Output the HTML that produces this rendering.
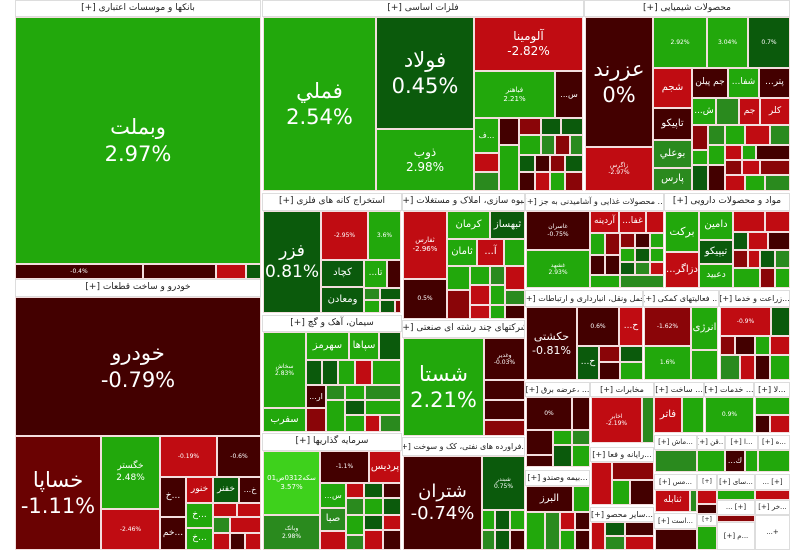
<!DOCTYPE html>
<html><head><meta charset="utf-8">
<style>
*{box-sizing:border-box;margin:0;padding:0}
body{width:800px;height:558px;background:#fff;position:relative;overflow:hidden;font-family:"DejaVu Sans","Liberation Sans",sans-serif}
div{position:absolute;border:1px solid #f3dede;color:#fff;display:flex;align-items:center;justify-content:center;text-align:center;overflow:hidden;direction:ltr;line-height:1.25;white-space:nowrap}
.h{background:#fff;color:#222;font-size:9px;border:1px solid #ddd;direction:rtl}
.g{background:#22a80c}.l{background:#3ed11c}.dg{background:#0b5a0c}.mg{background:#2a8a1e}
.r{background:#c00c12}.dr{background:#430000}.mr{background:#8a0508}.kr{background:#6a0202}
.B{font-size:21px}.M{font-size:12px}.S{font-size:6px}
</style></head><body>
<!-- left -->
<div class="h" style="left:15px;top:0;width:246px;height:17px">بانکها و موسسات اعتباری [+]</div>
<div class="g B" style="left:15px;top:17px;width:246px;height:247px">وبملت<br>2.97%</div>
<div class="dr S" style="left:15px;top:264px;width:128px;height:15px">-0.4%</div>
<div class="dr" style="left:143px;top:264px;width:73px;height:15px"></div>
<div class="r" style="left:216px;top:264px;width:30px;height:15px"></div>
<div class="dg" style="left:246px;top:264px;width:15px;height:15px"></div>
<div class="h" style="left:15px;top:279px;width:246px;height:18px">خودرو و ساخت قطعات [+]</div>
<div class="dr B" style="left:15px;top:297px;width:246px;height:139px">خودرو<br>-0.79%</div>
<div class="kr B" style="left:15px;top:436px;width:86px;height:114px">خساپا<br>-1.11%</div>
<div class="g" style="left:101px;top:436px;width:59px;height:73px;font-size:9px">خگستر<br>2.48%</div>
<div class="r S" style="left:101px;top:509px;width:59px;height:41px">-2.46%</div>
<div class="r S" style="left:160px;top:436px;width:57px;height:41px">-0.19%</div>
<div class="dr S" style="left:217px;top:436px;width:44px;height:41px">-0.6%</div>
<div class="dr" style="left:160px;top:477px;width:26px;height:40px;font-size:9px">خ...</div>
<div class="r" style="left:186px;top:477px;width:27px;height:26px;font-size:9px">خنور</div>
<div class="dg" style="left:213px;top:477px;width:26px;height:26px;font-size:9px">خفنر</div>
<div class="dr" style="left:239px;top:477px;width:22px;height:26px;font-size:8px">...خ</div>
<div class="dr" style="left:160px;top:517px;width:26px;height:33px;font-size:9px">خم...</div>
<div class="g" style="left:186px;top:503px;width:27px;height:25px;font-size:9px">خ...</div>
<div class="g" style="left:186px;top:528px;width:27px;height:22px;font-size:9px">خ...</div>
<div class="r" style="left:213px;top:503px;width:24px;height:14px"></div>
<div class="r" style="left:237px;top:503px;width:24px;height:14px"></div>
<div class="mg" style="left:213px;top:517px;width:17px;height:16px"></div>
<div class="r" style="left:230px;top:517px;width:31px;height:16px"></div>
<div class="r" style="left:213px;top:533px;width:17px;height:17px"></div>
<div class="dr" style="left:230px;top:533px;width:15px;height:17px"></div>
<div class="r" style="left:245px;top:533px;width:16px;height:17px"></div>
<!-- fellezat -->
<div class="h" style="left:262px;top:0;width:322px;height:17px">فلزات اساسی [+]</div>
<div class="g B" style="left:263px;top:17px;width:113px;height:174px">فملي<br>2.54%</div>
<div class="dg B" style="left:376px;top:17px;width:98px;height:112px">فولاد<br>0.45%</div>
<div class="g M" style="left:376px;top:129px;width:98px;height:62px">ذوب<br>2.98%</div>
<div class="r M" style="left:474px;top:17px;width:109px;height:54px">آلومينا<br>-2.82%</div>
<div class="g" style="left:474px;top:71px;width:81px;height:47px;font-size:7px">فباهنر<br>2.21%</div>
<div class="dr" style="left:555px;top:71px;width:28px;height:47px;font-size:8px">...س</div>
<div class="g" style="left:474px;top:118px;width:25px;height:35px;font-size:8px">ف...</div>
<div class="r" style="left:474px;top:153px;width:25px;height:19px"></div>
<div class="mg" style="left:474px;top:172px;width:25px;height:19px"></div>
<div class="dr" style="left:499px;top:118px;width:20px;height:27px"></div>
<div class="g" style="left:499px;top:145px;width:20px;height:46px"></div>
<div class="mr" style="left:519px;top:118px;width:22px;height:17px"></div>
<div class="dg" style="left:541px;top:118px;width:20px;height:17px"></div>
<div class="dg" style="left:561px;top:118px;width:22px;height:17px"></div>
<div class="g" style="left:519px;top:135px;width:22px;height:20px"></div>
<div class="mg" style="left:541px;top:135px;width:14px;height:20px"></div>
<div class="mr" style="left:555px;top:135px;width:15px;height:20px"></div>
<div class="mg" style="left:570px;top:135px;width:13px;height:20px"></div>
<div class="dg" style="left:519px;top:155px;width:16px;height:17px"></div>
<div class="dr" style="left:535px;top:155px;width:15px;height:17px"></div>
<div class="mr" style="left:550px;top:155px;width:15px;height:17px"></div>
<div class="dg" style="left:565px;top:155px;width:18px;height:17px"></div>
<div class="dr" style="left:519px;top:172px;width:16px;height:19px"></div>
<div class="r" style="left:535px;top:172px;width:15px;height:19px"></div>
<div class="g" style="left:550px;top:172px;width:15px;height:19px"></div>
<div class="mr" style="left:565px;top:172px;width:18px;height:19px"></div>
<!-- chem -->
<div class="h" style="left:584px;top:0;width:206px;height:17px">محصولات شیمیایی [+]</div>
<div class="dr B" style="left:585px;top:17px;width:68px;height:130px">عزرند<br>0%</div>
<div class="r S" style="left:585px;top:147px;width:68px;height:44px">زاگرس<br>-2.97%</div>
<div class="g S" style="left:653px;top:17px;width:54px;height:51px">2.92%</div>
<div class="g S" style="left:707px;top:17px;width:41px;height:51px">3.04%</div>
<div class="dg S" style="left:748px;top:17px;width:42px;height:51px">0.7%</div>
<div class="r" style="left:653px;top:68px;width:39px;height:40px;font-size:10px">شجم</div>
<div class="dr" style="left:692px;top:68px;width:36px;height:30px;font-size:9px">جم پیلن</div>
<div class="g" style="left:728px;top:68px;width:31px;height:30px;font-size:9px">...شفا</div>
<div class="dr" style="left:759px;top:68px;width:31px;height:30px;font-size:9px">...پتر</div>
<div class="dr" style="left:653px;top:108px;width:39px;height:32px;font-size:10px">تاپیکو</div>
<div class="g" style="left:692px;top:98px;width:24px;height:27px;font-size:9px">...ش</div>
<div class="mg" style="left:716px;top:98px;width:23px;height:27px"></div>
<div class="r" style="left:739px;top:98px;width:21px;height:27px;font-size:9px">جم</div>
<div class="r" style="left:760px;top:98px;width:30px;height:27px;font-size:9px">کلر</div>
<div class="mg" style="left:653px;top:140px;width:39px;height:28px;font-size:10px">بوعلي</div>
<div class="mg" style="left:653px;top:168px;width:39px;height:23px;font-size:10px">پارس</div>
<div class="mr" style="left:692px;top:125px;width:16px;height:25px"></div>
<div class="g" style="left:692px;top:150px;width:16px;height:15px"></div>
<div class="dg" style="left:692px;top:165px;width:16px;height:26px"></div>
<div class="mg" style="left:708px;top:125px;width:17px;height:20px"></div>
<div class="g" style="left:708px;top:145px;width:17px;height:20px"></div>
<div class="dr" style="left:708px;top:165px;width:17px;height:26px"></div>
<div class="g" style="left:725px;top:125px;width:20px;height:20px"></div>
<div class="r" style="left:745px;top:125px;width:25px;height:20px"></div>
<div class="mg" style="left:770px;top:125px;width:20px;height:20px"></div>
<div class="r" style="left:725px;top:145px;width:17px;height:15px"></div>
<div class="g" style="left:742px;top:145px;width:14px;height:15px"></div>
<div class="dr" style="left:756px;top:145px;width:34px;height:15px"></div>
<div class="mr" style="left:725px;top:160px;width:17px;height:15px"></div>
<div class="r" style="left:742px;top:160px;width:18px;height:15px"></div>
<div class="mr" style="left:760px;top:160px;width:30px;height:15px"></div>
<div class="r" style="left:725px;top:175px;width:20px;height:16px"></div>
<div class="g" style="left:745px;top:175px;width:20px;height:16px"></div>
<div class="mg" style="left:765px;top:175px;width:25px;height:16px"></div>
<!-- kane -->
<div class="h" style="left:262px;top:193px;width:140px;height:18px">استخراج کانه های فلزی [+]</div>
<div class="dg B" style="left:263px;top:211px;width:58px;height:102px;font-size:17px">فزر<br>0.81%</div>
<div class="r S" style="left:321px;top:211px;width:47px;height:49px">-2.95%</div>
<div class="g S" style="left:368px;top:211px;width:33px;height:49px">3.6%</div>
<div class="dg" style="left:321px;top:260px;width:43px;height:27px;font-size:10px">کچاد</div>
<div class="dg" style="left:321px;top:287px;width:43px;height:26px;font-size:10px">ومعادن</div>
<div class="g" style="left:364px;top:260px;width:23px;height:28px;font-size:9px">...تا</div>
<div class="dr" style="left:387px;top:260px;width:14px;height:28px"></div>
<div class="mg" style="left:364px;top:288px;width:16px;height:12px"></div>
<div class="dg" style="left:380px;top:288px;width:21px;height:12px"></div>
<div class="g" style="left:364px;top:300px;width:16px;height:13px"></div>
<div class="dg" style="left:380px;top:300px;width:15px;height:13px"></div>
<div class="mr" style="left:395px;top:300px;width:6px;height:13px"></div>
<!-- anbooh -->
<div class="h" style="left:402px;top:193px;width:123px;height:18px">انبوه سازی، املاک و مستغلات [+]</div>
<div class="r" style="left:403px;top:211px;width:44px;height:68px;font-size:7px">ثفارس<br>-2.96%</div>
<div class="dr S" style="left:403px;top:279px;width:44px;height:40px">0.5%</div>
<div class="g" style="left:447px;top:211px;width:43px;height:28px;font-size:10px">کرمان</div>
<div class="dg" style="left:490px;top:211px;width:35px;height:28px;font-size:10px">ثبهساز</div>
<div class="g" style="left:447px;top:239px;width:30px;height:27px;font-size:10px">ثامان</div>
<div class="r" style="left:477px;top:239px;width:27px;height:27px;font-size:10px">...آ</div>
<div class="g" style="left:504px;top:239px;width:21px;height:27px"></div>
<div class="g" style="left:447px;top:266px;width:23px;height:24px"></div>
<div class="g" style="left:470px;top:266px;width:20px;height:19px"></div>
<div class="mg" style="left:490px;top:266px;width:15px;height:19px"></div>
<div class="r" style="left:505px;top:266px;width:20px;height:24px"></div>
<div class="r" style="left:470px;top:285px;width:20px;height:20px"></div>
<div class="g" style="left:490px;top:285px;width:15px;height:20px"></div>
<div class="mg" style="left:505px;top:290px;width:20px;height:15px"></div>
<div class="mr" style="left:447px;top:290px;width:23px;height:29px"></div>
<div class="r" style="left:470px;top:305px;width:20px;height:14px"></div>
<div class="g" style="left:490px;top:305px;width:15px;height:14px"></div>
<div class="dr" style="left:505px;top:305px;width:20px;height:14px"></div>
<!-- food -->
<div class="h" style="left:525px;top:193px;width:139px;height:18px;font-size:8px">... محصولات غذایی و آشامیدنی به جز [+]</div>
<div class="dr S" style="left:526px;top:211px;width:64px;height:39px">غاسران<br>-0.75%</div>
<div class="g S" style="left:526px;top:250px;width:64px;height:38px">غشهد<br>2.93%</div>
<div class="r" style="left:590px;top:211px;width:29px;height:22px;font-size:9px">آردینه</div>
<div class="r" style="left:619px;top:211px;width:27px;height:22px;font-size:9px">...غفا</div>
<div class="r" style="left:646px;top:211px;width:18px;height:22px"></div>
<div class="g" style="left:590px;top:233px;width:15px;height:22px"></div>
<div class="mr" style="left:605px;top:233px;width:15px;height:22px"></div>
<div class="mr" style="left:620px;top:233px;width:15px;height:15px"></div>
<div class="dr" style="left:635px;top:233px;width:15px;height:15px"></div>
<div class="g" style="left:650px;top:233px;width:14px;height:15px"></div>
<div class="dr" style="left:590px;top:255px;width:15px;height:20px"></div>
<div class="dr" style="left:605px;top:255px;width:15px;height:20px"></div>
<div class="g" style="left:620px;top:248px;width:15px;height:14px"></div>
<div class="dg" style="left:635px;top:248px;width:15px;height:14px"></div>
<div class="g" style="left:650px;top:248px;width:14px;height:14px"></div>
<div class="g" style="left:590px;top:275px;width:30px;height:13px"></div>
<div class="dg" style="left:620px;top:262px;width:15px;height:13px"></div>
<div class="mg" style="left:635px;top:262px;width:15px;height:13px"></div>
<div class="r" style="left:650px;top:262px;width:14px;height:13px"></div>
<div class="mg" style="left:620px;top:275px;width:44px;height:13px"></div>
<!-- daroo -->
<div class="h" style="left:664px;top:193px;width:126px;height:18px">مواد و محصولات دارویی [+]</div>
<div class="g" style="left:665px;top:211px;width:34px;height:41px;font-size:11px">برکت</div>
<div class="r" style="left:665px;top:252px;width:34px;height:36px;font-size:10px">...دزاگر</div>
<div class="g" style="left:699px;top:211px;width:34px;height:29px;font-size:10px">دامین</div>
<div class="dg" style="left:699px;top:240px;width:34px;height:24px;font-size:10px">تیپیکو</div>
<div class="g" style="left:699px;top:264px;width:34px;height:24px;font-size:9px">دعبید</div>
<div class="r" style="left:733px;top:211px;width:32px;height:21px"></div>
<div class="r" style="left:765px;top:211px;width:25px;height:21px"></div>
<div class="dg" style="left:733px;top:232px;width:15px;height:18px"></div>
<div class="r" style="left:748px;top:232px;width:20px;height:18px"></div>
<div class="dr" style="left:768px;top:232px;width:22px;height:18px"></div>
<div class="mr" style="left:733px;top:250px;width:15px;height:18px"></div>
<div class="r" style="left:748px;top:250px;width:12px;height:18px"></div>
<div class="dg" style="left:760px;top:250px;width:15px;height:18px"></div>
<div class="mg" style="left:775px;top:250px;width:15px;height:18px"></div>
<div class="g" style="left:733px;top:268px;width:27px;height:20px"></div>
<div class="mr" style="left:760px;top:268px;width:15px;height:20px"></div>
<div class="g" style="left:775px;top:268px;width:15px;height:20px"></div>
<!-- siman -->
<div class="h" style="left:262px;top:315px;width:140px;height:17px">سیمان، آهک و گچ [+]</div>
<div class="g S" style="left:263px;top:332px;width:43px;height:76px">سخاش<br>2.83%</div>
<div class="g" style="left:306px;top:332px;width:43px;height:28px;font-size:10px">سهرمز</div>
<div class="g" style="left:349px;top:332px;width:30px;height:28px;font-size:10px">سپاها</div>
<div class="dg" style="left:379px;top:332px;width:22px;height:28px"></div>
<div class="dg" style="left:306px;top:360px;width:16px;height:25px"></div>
<div class="dg" style="left:322px;top:360px;width:16px;height:25px"></div>
<div class="g" style="left:338px;top:360px;width:17px;height:25px"></div>
<div class="r" style="left:355px;top:360px;width:17px;height:25px"></div>
<div class="g" style="left:372px;top:360px;width:29px;height:25px"></div>
<div class="dr" style="left:306px;top:385px;width:20px;height:23px;font-size:8px">...ار</div>
<div class="mg" style="left:326px;top:385px;width:19px;height:15px"></div>
<div class="g" style="left:345px;top:385px;width:20px;height:15px"></div>
<div class="mg" style="left:365px;top:385px;width:36px;height:15px"></div>
<div class="mr" style="left:306px;top:408px;width:20px;height:24px"></div>
<div class="g" style="left:326px;top:400px;width:19px;height:32px"></div>
<div class="dg" style="left:345px;top:400px;width:20px;height:15px"></div>
<div class="g" style="left:365px;top:400px;width:36px;height:15px"></div>
<div class="g" style="left:345px;top:415px;width:20px;height:17px"></div>
<div class="r" style="left:365px;top:415px;width:15px;height:17px"></div>
<div class="mg" style="left:380px;top:415px;width:21px;height:17px"></div>
<div class="g" style="left:263px;top:408px;width:43px;height:24px;font-size:10px">سفرب</div>
<!-- shasta -->
<div class="h" style="left:402px;top:320px;width:123px;height:18px">شرکتهای چند رشته ای صنعتی [+]</div>
<div class="g B" style="left:403px;top:338px;width:81px;height:98px">شستا<br>2.21%</div>
<div class="dr S" style="left:484px;top:338px;width:41px;height:42px">وغدیر<br>-0.03%</div>
<div class="dr" style="left:484px;top:380px;width:41px;height:20px"></div>
<div class="dr" style="left:484px;top:400px;width:41px;height:20px"></div>
<div class="mr" style="left:484px;top:420px;width:41px;height:16px"></div>
<!-- naft -->
<div class="h" style="left:402px;top:437px;width:123px;height:19px;font-size:8px">...فراورده های نفتی، کک و سوخت [+]</div>
<div class="dr B" style="left:403px;top:456px;width:79px;height:94px;font-size:18px">شتران<br>-0.74%</div>
<div class="dg S" style="left:482px;top:456px;width:43px;height:54px">شبندر<br>0.75%</div>
<div class="g" style="left:482px;top:510px;width:13px;height:20px"></div>
<div class="dg" style="left:495px;top:510px;width:15px;height:20px"></div>
<div class="g" style="left:510px;top:510px;width:15px;height:20px"></div>
<div class="mg" style="left:482px;top:530px;width:13px;height:20px"></div>
<div class="dg" style="left:495px;top:530px;width:15px;height:20px"></div>
<div class="dr" style="left:510px;top:530px;width:15px;height:20px"></div>
<!-- sarmaye -->
<div class="h" style="left:262px;top:433px;width:140px;height:18px">سرمایه گذاریها [+]</div>
<div class="l" style="left:263px;top:451px;width:57px;height:64px;font-size:7px">سکه0312ص01<br>3.57%</div>
<div class="mg S" style="left:263px;top:515px;width:57px;height:35px">وبانک<br>2.98%</div>
<div class="dr S" style="left:320px;top:451px;width:49px;height:32px">-1.1%</div>
<div class="r" style="left:369px;top:451px;width:32px;height:32px;font-size:10px">پردیس</div>
<div class="g" style="left:320px;top:483px;width:26px;height:25px;font-size:8px">...س</div>
<div class="mg" style="left:320px;top:508px;width:26px;height:23px;font-size:10px">صبا</div>
<div class="r" style="left:320px;top:531px;width:26px;height:19px"></div>
<div class="r" style="left:346px;top:483px;width:18px;height:15px"></div>
<div class="dg" style="left:364px;top:483px;width:19px;height:15px"></div>
<div class="dr" style="left:383px;top:483px;width:18px;height:15px"></div>
<div class="mg" style="left:346px;top:498px;width:18px;height:17px"></div>
<div class="g" style="left:364px;top:498px;width:19px;height:17px"></div>
<div class="dg" style="left:383px;top:498px;width:18px;height:17px"></div>
<div class="g" style="left:346px;top:515px;width:18px;height:20px"></div>
<div class="dg" style="left:364px;top:515px;width:19px;height:15px"></div>
<div class="r" style="left:383px;top:515px;width:18px;height:15px"></div>
<div class="mg" style="left:346px;top:535px;width:18px;height:15px"></div>
<div class="r" style="left:364px;top:530px;width:19px;height:20px"></div>
<div class="dr" style="left:383px;top:530px;width:18px;height:20px"></div>
<!-- haml -->
<div class="h" style="left:525px;top:290px;width:118px;height:17px;font-size:8px">حمل ونقل، انبارداری و ارتباطات [+]</div>
<div class="dr" style="left:526px;top:307px;width:51px;height:73px;font-size:11px">حکشتی<br>-0.81%</div>
<div class="dr S" style="left:577px;top:307px;width:42px;height:39px">0.6%</div>
<div class="r" style="left:619px;top:307px;width:24px;height:39px;font-size:9px">...ح</div>
<div class="dg" style="left:577px;top:346px;width:22px;height:34px;font-size:9px">...ح</div>
<div class="mr" style="left:599px;top:346px;width:21px;height:16px"></div>
<div class="dg" style="left:620px;top:346px;width:23px;height:16px"></div>
<div class="dr" style="left:599px;top:362px;width:21px;height:18px"></div>
<div class="g" style="left:620px;top:362px;width:23px;height:18px"></div>
<div class="h" style="left:643px;top:290px;width:76px;height:17px;font-size:8px">... فعالیتهای کمکی [+]</div>
<div class="mr S" style="left:644px;top:307px;width:47px;height:39px">-1.62%</div>
<div class="g" style="left:691px;top:307px;width:27px;height:43px;font-size:10px">انرژی</div>
<div class="g S" style="left:644px;top:346px;width:47px;height:34px">1.6%</div>
<div class="g" style="left:691px;top:350px;width:27px;height:30px"></div>
<div class="h" style="left:719px;top:290px;width:71px;height:17px;font-size:8px">...زراعت و خدما [+]</div>
<div class="r S" style="left:720px;top:307px;width:51px;height:29px">-0.9%</div>
<div class="dg" style="left:771px;top:307px;width:19px;height:29px"></div>
<div class="mr" style="left:720px;top:336px;width:15px;height:19px"></div>
<div class="dr" style="left:735px;top:336px;width:20px;height:19px"></div>
<div class="g" style="left:755px;top:336px;width:15px;height:19px"></div>
<div class="r" style="left:770px;top:336px;width:20px;height:19px"></div>
<div class="mg" style="left:720px;top:355px;width:20px;height:25px"></div>
<div class="r" style="left:740px;top:355px;width:15px;height:25px"></div>
<div class="dr" style="left:755px;top:355px;width:15px;height:25px"></div>
<div class="g" style="left:770px;top:355px;width:20px;height:25px"></div>
<!-- row at 382 -->
<div class="h" style="left:525px;top:382px;width:65px;height:15px;font-size:8px">... ،عرضه برق [+]</div>
<div class="dr S" style="left:526px;top:397px;width:46px;height:33px">0%</div>
<div class="dr" style="left:572px;top:397px;width:18px;height:33px"></div>
<div class="dr" style="left:526px;top:430px;width:27px;height:25px"></div>
<div class="g" style="left:553px;top:430px;width:19px;height:15px"></div>
<div class="mg" style="left:572px;top:430px;width:18px;height:15px"></div>
<div class="dr" style="left:526px;top:455px;width:27px;height:12px"></div>
<div class="dg" style="left:553px;top:445px;width:19px;height:22px"></div>
<div class="g" style="left:572px;top:445px;width:18px;height:22px"></div>
<div class="h" style="left:590px;top:382px;width:64px;height:15px;font-size:8px">مخابرات [+]</div>
<div class="r S" style="left:591px;top:397px;width:51px;height:46px">اخابر<br>-2.19%</div>
<div class="mg" style="left:642px;top:397px;width:12px;height:46px"></div>
<div class="h" style="left:654px;top:382px;width:50px;height:15px;font-size:8px">... ساخت [+]</div>
<div class="r" style="left:654px;top:397px;width:28px;height:36px;font-size:10px">فاتر</div>
<div class="g" style="left:682px;top:397px;width:22px;height:36px"></div>
<div class="h" style="left:704px;top:382px;width:50px;height:15px;font-size:8px">... خدمات [+]</div>
<div class="g S" style="left:705px;top:397px;width:49px;height:36px">0.9%</div>
<div class="h" style="left:754px;top:382px;width:36px;height:15px;font-size:8px">...لا [+]</div>
<div class="g" style="left:755px;top:397px;width:35px;height:18px"></div>
<div class="dr" style="left:755px;top:415px;width:15px;height:18px"></div>
<div class="r" style="left:770px;top:415px;width:20px;height:18px"></div>
<div class="h" style="left:590px;top:447px;width:64px;height:15px;font-size:8px">...رایانه و فعا [+]</div>
<div class="r" style="left:591px;top:462px;width:21px;height:43px"></div>
<div class="mr" style="left:612px;top:462px;width:42px;height:18px"></div>
<div class="g" style="left:612px;top:480px;width:18px;height:25px"></div>
<div class="dr" style="left:630px;top:480px;width:24px;height:25px"></div>
<div class="h" style="left:590px;top:507px;width:64px;height:15px;font-size:8px">...سایر محصو [+]</div>
<div class="r" style="left:591px;top:522px;width:14px;height:28px"></div>
<div class="dg" style="left:605px;top:522px;width:20px;height:14px"></div>
<div class="dr" style="left:625px;top:522px;width:29px;height:14px"></div>
<div class="mg" style="left:605px;top:536px;width:20px;height:14px"></div>
<div class="r" style="left:625px;top:536px;width:29px;height:14px"></div>
<div class="h" style="left:525px;top:470px;width:65px;height:16px;font-size:8px">...بیمه وصندو [+]</div>
<div class="dr" style="left:526px;top:486px;width:47px;height:26px;font-size:10px">البرز</div>
<div class="g" style="left:573px;top:486px;width:17px;height:26px"></div>
<div class="g" style="left:526px;top:512px;width:19px;height:38px"></div>
<div class="mg" style="left:545px;top:512px;width:15px;height:38px"></div>
<div class="r" style="left:560px;top:512px;width:15px;height:18px"></div>
<div class="dr" style="left:575px;top:512px;width:15px;height:18px"></div>
<div class="g" style="left:560px;top:530px;width:15px;height:20px"></div>
<div class="dr" style="left:575px;top:530px;width:15px;height:20px"></div>
<!-- small panels -->
<div class="h" style="left:654px;top:435px;width:43px;height:15px;font-size:7px">...ماش [+]</div>
<div class="h" style="left:697px;top:435px;width:28px;height:15px;font-size:7px">...قن [+]</div>
<div class="h" style="left:725px;top:435px;width:33px;height:15px;font-size:7px">...ا [+]</div>
<div class="h" style="left:758px;top:435px;width:32px;height:15px;font-size:7px">...ه [+]</div>
<div class="mg" style="left:655px;top:450px;width:42px;height:22px"></div>
<div class="g" style="left:697px;top:450px;width:28px;height:22px"></div>
<div class="dr" style="left:725px;top:450px;width:20px;height:22px;font-size:8px">...ك</div>
<div class="g" style="left:745px;top:450px;width:13px;height:22px"></div>
<div class="g" style="left:758px;top:450px;width:32px;height:22px"></div>
<div class="h" style="left:654px;top:474px;width:43px;height:16px;font-size:7px">...مس [+]</div>
<div class="h" style="left:697px;top:474px;width:20px;height:16px;font-size:6px">[+]</div>
<div class="h" style="left:717px;top:474px;width:38px;height:16px;font-size:7px">...سای [+]</div>
<div class="h" style="left:755px;top:474px;width:35px;height:16px;font-size:7px">[+] ...</div>
<div class="r" style="left:655px;top:490px;width:35px;height:22px;font-size:9px">ثنابله</div>
<div class="mg" style="left:690px;top:490px;width:7px;height:22px"></div>
<div class="r" style="left:697px;top:490px;width:20px;height:14px"></div>
<div class="dr" style="left:697px;top:504px;width:20px;height:10px"></div>
<div class="g" style="left:717px;top:490px;width:38px;height:10px"></div>
<div class="r" style="left:755px;top:490px;width:35px;height:10px"></div>
<div class="h" style="left:654px;top:513px;width:43px;height:16px;font-size:7px">...است [+]</div>
<div class="h" style="left:697px;top:514px;width:20px;height:12px;font-size:6px">[+]</div>
<div class="h" style="left:717px;top:500px;width:38px;height:15px;font-size:7px">[+] ...</div>
<div class="h" style="left:755px;top:500px;width:35px;height:15px;font-size:7px">...خر [+]</div>
<div class="dr" style="left:655px;top:529px;width:42px;height:21px"></div>
<div class="g" style="left:697px;top:526px;width:20px;height:24px"></div>
<div class="mr" style="left:717px;top:515px;width:38px;height:7px"></div>
<div class="h" style="left:717px;top:522px;width:38px;height:28px;font-size:7px">...م [+]</div>
<div class="h" style="left:755px;top:515px;width:35px;height:35px;font-size:7px">+...</div>
</body></html>
